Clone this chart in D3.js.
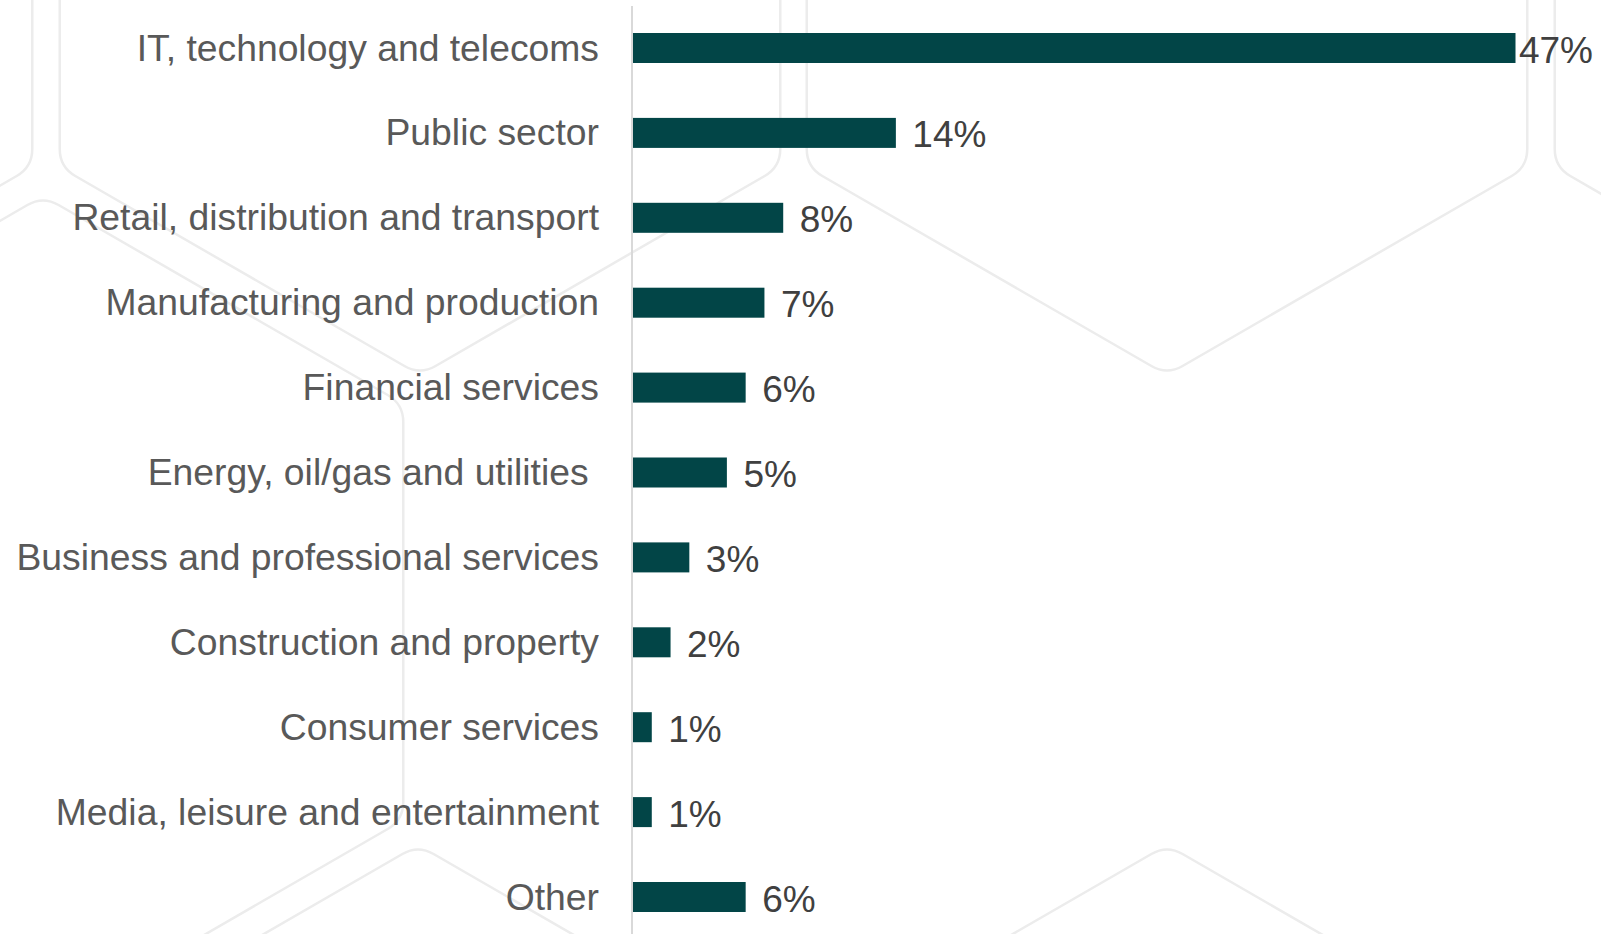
<!DOCTYPE html>
<html>
<head>
<meta charset="utf-8">
<script src="https://cdn.jsdelivr.net/npm/d3@7"></script>
<style>
  html, body { margin: 0; padding: 0; background: #ffffff; }
  svg { display: block; }
  text { font-family: "Liberation Sans", Arial, Helvetica, sans-serif; }
</style>
</head>
<body>
<svg id="chart" width="1601" height="934"></svg>
<script>
// Sectors and share of respondents (%)
const categories = [
  "IT, technology and telecoms",
  "Public sector",
  "Retail, distribution and transport",
  "Manufacturing and production",
  "Financial services",
  "Energy, oil/gas and utilities ",
  "Business and professional services",
  "Construction and property",
  "Consumer services",
  "Media, leisure and entertainment",
  "Other"
];
const shares = [47, 14, 8, 7, 6, 5, 3, 2, 1, 1, 6];
const shareLabels = shares.map(v => v + "%");

// Decorative honeycomb outlines behind the chart: [cx, cy]
const hexCentres = [
  [-328, -41], [420, -41], [1167, -41], [1915, -41],
  [43, 612],
  [418, 1261], [1167, 1261]
];
const hexRadius = 416;
const hexCorner = 18;

const W = 1601, H = 934;
const svg = d3.select("#chart");

// Rounded pointy-top hexagon path
function roundedHex(cx, cy, s, r) {
  const pts = d3.range(6).map(k => {
    const a = (-90 + 60 * k) * Math.PI / 180;
    return [cx + s * Math.cos(a), cy + s * Math.sin(a)];
  });
  const path = d3.path();
  const n = pts.length;
  for (let i = 0; i < n; i++) {
    const prev = pts[(i - 1 + n) % n], v = pts[i], next = pts[(i + 1) % n];
    const d1 = Math.hypot(v[0] - prev[0], v[1] - prev[1]);
    const d2 = Math.hypot(next[0] - v[0], next[1] - v[1]);
    const pin = [v[0] - r * (v[0] - prev[0]) / d1, v[1] - r * (v[1] - prev[1]) / d1];
    const pout = [v[0] + r * (next[0] - v[0]) / d2, v[1] + r * (next[1] - v[1]) / d2];
    if (i === 0) path.moveTo(pin[0], pin[1]); else path.lineTo(pin[0], pin[1]);
    path.quadraticCurveTo(v[0], v[1], pout[0], pout[1]);
  }
  path.closePath();
  return path.toString();
}

svg.append("g").attr("class", "honeycomb")
  .selectAll("path")
  .data(hexCentres)
  .join("path")
  .attr("d", d => roundedHex(d[0], d[1], hexRadius, hexCorner))
  .attr("fill", "none")
  .attr("stroke", "#ececec")
  .attr("stroke-width", 2.5);

// Scales
const step = 84.9;
const pad = 1 - 30 / step;
const y = d3.scaleBand()
  .domain(categories)
  .range([48 - step / 2, 48 - step / 2 + categories.length * step])
  .paddingInner(pad)
  .paddingOuter(pad / 2);

const x = d3.scaleLinear()
  .domain([0, 47])
  .range([633, 1515.5]);

// Bars
svg.append("g").attr("class", "bars")
  .selectAll("rect")
  .data(shares)
  .join("rect")
  .attr("x", x(0))
  .attr("y", (d, i) => y(categories[i]))
  .attr("width", d => x(d) - x(0))
  .attr("height", y.bandwidth())
  .attr("fill", "#024547");

// Vertical category axis line
svg.append("line")
  .attr("x1", 632).attr("x2", 632)
  .attr("y1", 6).attr("y2", H)
  .attr("stroke", "#d9d9d9")
  .attr("stroke-width", 2);

// Category labels
svg.append("g").attr("class", "cat-labels")
  .selectAll("text")
  .data(categories)
  .join("text")
  .attr("x", 599)
  .attr("y", d => y(d) + y.bandwidth() / 2 + 12.5)
  .attr("text-anchor", "end")
  .attr("font-size", 37.3)
  .attr("fill", "#595959")
  .style("white-space", "pre")
  .text(d => d);

// Value labels, kept inside the right edge
const rightEdge = 1593;
svg.append("g").attr("class", "value-labels")
  .selectAll("text")
  .data(shares)
  .join("text")
  .attr("x", d => x(d) + 16.5)
  .attr("y", (d, i) => y(categories[i]) + y.bandwidth() / 2 + 14.5)
  .attr("font-size", 37)
  .attr("fill", "#404040")
  .text((d, i) => shareLabels[i])
  .each(function (d) {
    const w = this.getComputedTextLength();
    const x0 = x(d) + 16.5;
    if (x0 + w > rightEdge) d3.select(this).attr("x", Math.max(x(d) + 3, rightEdge - w));
  });
</script>
</body>
</html>
